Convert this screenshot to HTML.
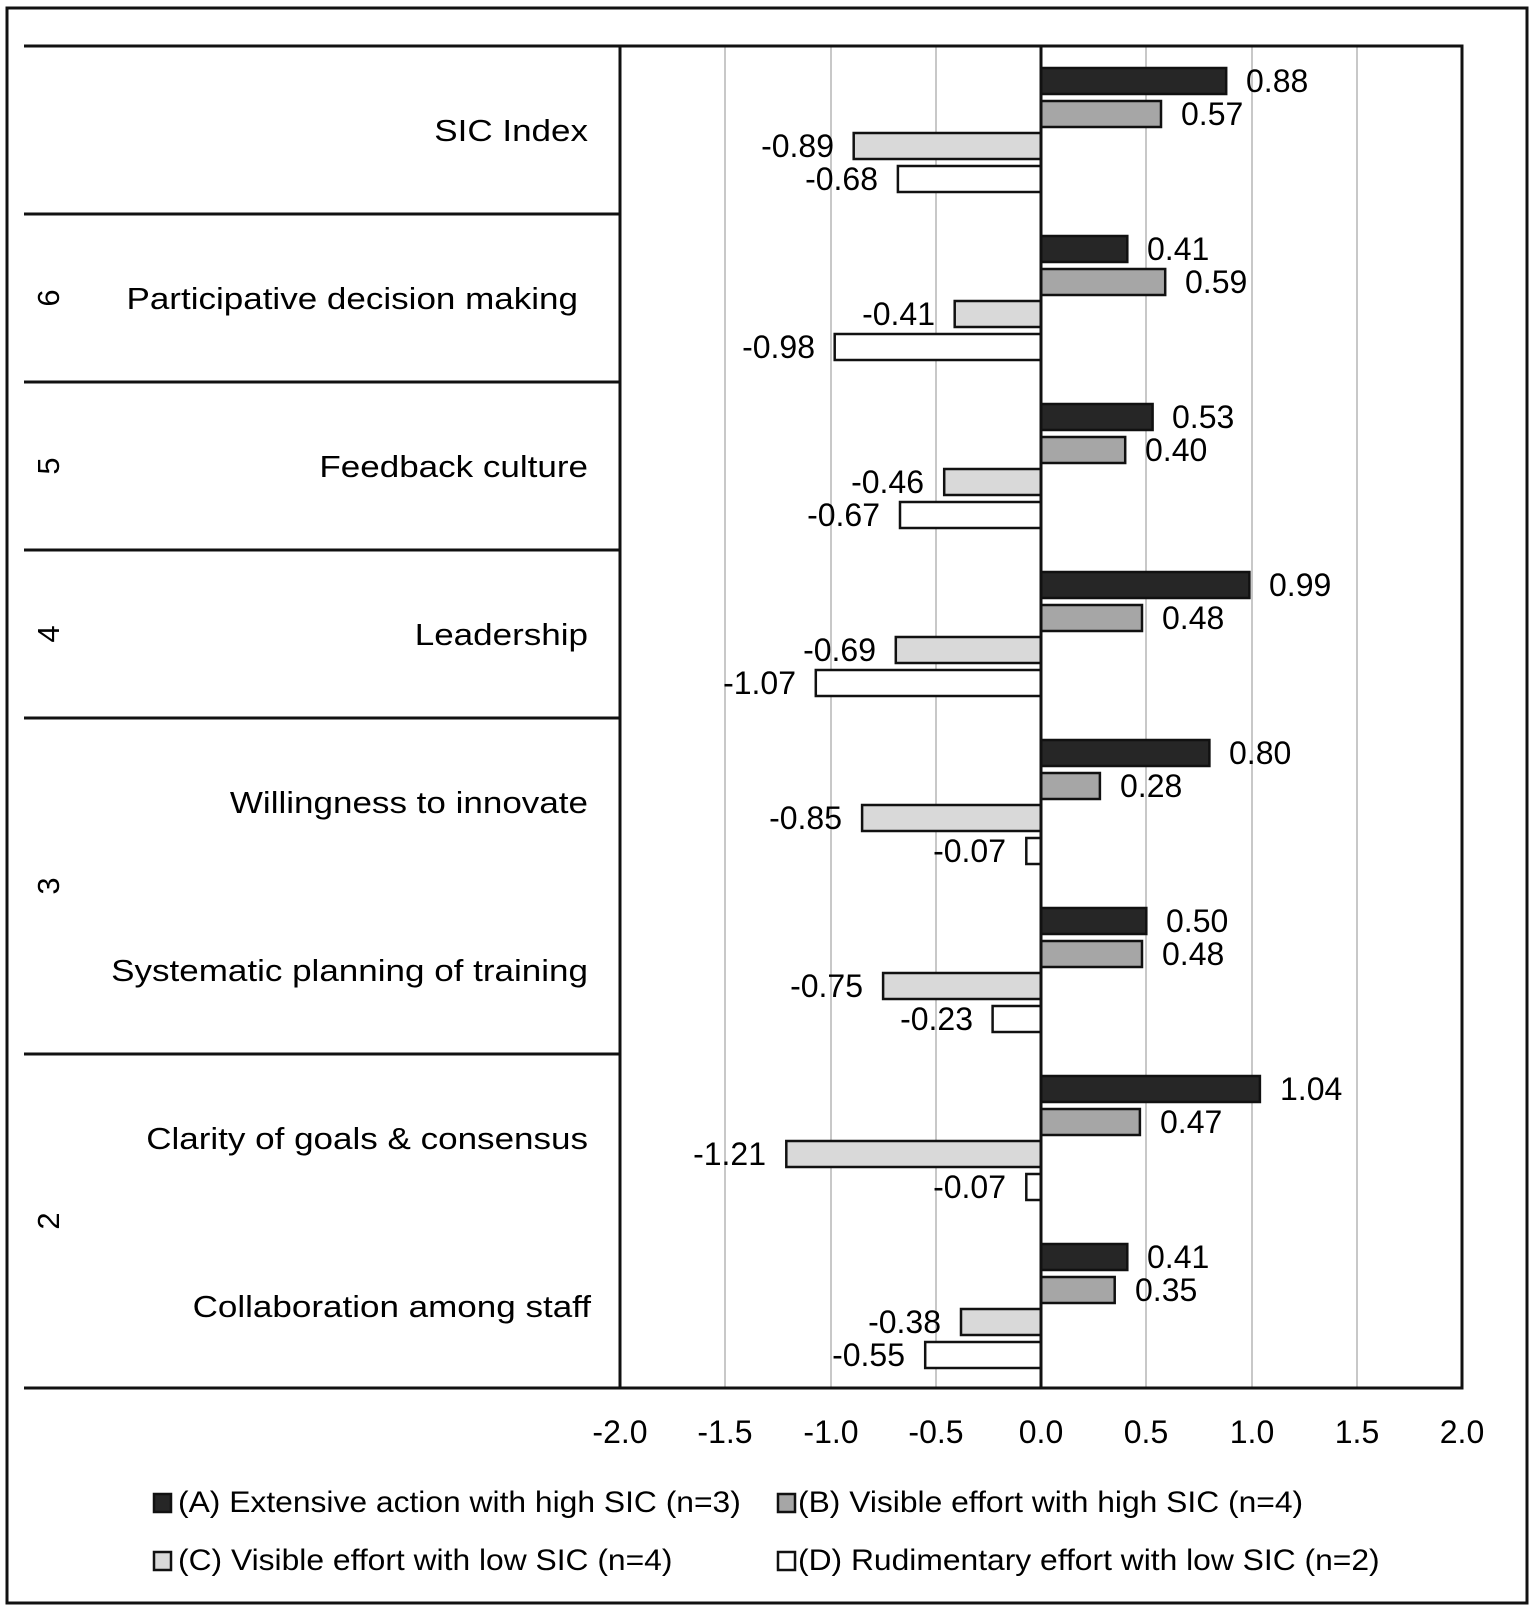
<!DOCTYPE html>
<html><head><meta charset="utf-8"><style>
html,body{margin:0;padding:0;background:#fff}
svg{display:block}
text{font-family:"Liberation Sans",Arial,sans-serif;fill:#000}
</style></head><body>
<svg width="1535" height="1611" viewBox="0 0 1535 1611" xmlns="http://www.w3.org/2000/svg">
<rect x="0" y="0" width="1535" height="1611" fill="#fff"/>
<rect x="7" y="8" width="1520" height="1595" fill="none" stroke="#111" stroke-width="3"/>
<g stroke="#c8c8c8" stroke-width="2">
<line x1="725" y1="47" x2="725" y2="1388"/>
<line x1="831" y1="47" x2="831" y2="1388"/>
<line x1="936" y1="47" x2="936" y2="1388"/>
<line x1="1146" y1="47" x2="1146" y2="1388"/>
<line x1="1252" y1="47" x2="1252" y2="1388"/>
<line x1="1357" y1="47" x2="1357" y2="1388"/>
</g>
<g stroke="#111" stroke-width="3" fill="none">
<rect x="620" y="46" width="842" height="1342"/>
<line x1="24" y1="46" x2="620" y2="46"/>
<line x1="24" y1="214" x2="620" y2="214"/>
<line x1="24" y1="382" x2="620" y2="382"/>
<line x1="24" y1="550" x2="620" y2="550"/>
<line x1="24" y1="718" x2="620" y2="718"/>
<line x1="24" y1="1054" x2="620" y2="1054"/>
<line x1="24" y1="1388" x2="620" y2="1388"/>
</g>
<g stroke="#111" stroke-width="2.5">
<rect x="1041" y="68" width="185.2" height="26" fill="#262626"/>
<rect x="1041" y="101" width="120" height="26" fill="#a6a6a6"/>
<rect x="853.7" y="133" width="187.3" height="26" fill="#d9d9d9"/>
<rect x="897.9" y="166" width="143.1" height="26" fill="#fff"/>
<rect x="1041" y="236" width="86.3" height="26" fill="#262626"/>
<rect x="1041" y="269" width="124.2" height="26" fill="#a6a6a6"/>
<rect x="954.7" y="301" width="86.3" height="26" fill="#d9d9d9"/>
<rect x="834.7" y="334" width="206.3" height="26" fill="#fff"/>
<rect x="1041" y="404" width="111.6" height="26" fill="#262626"/>
<rect x="1041" y="437" width="84.2" height="26" fill="#a6a6a6"/>
<rect x="944.2" y="469" width="96.8" height="26" fill="#d9d9d9"/>
<rect x="900" y="502" width="141" height="26" fill="#fff"/>
<rect x="1041" y="572" width="208.4" height="26" fill="#262626"/>
<rect x="1041" y="605" width="101" height="26" fill="#a6a6a6"/>
<rect x="895.8" y="637" width="145.2" height="26" fill="#d9d9d9"/>
<rect x="815.8" y="670" width="225.2" height="26" fill="#fff"/>
<rect x="1041" y="740" width="168.4" height="26" fill="#262626"/>
<rect x="1041" y="773" width="58.9" height="26" fill="#a6a6a6"/>
<rect x="862.1" y="805" width="178.9" height="26" fill="#d9d9d9"/>
<rect x="1026.3" y="838" width="14.7" height="26" fill="#fff"/>
<rect x="1041" y="908" width="105.3" height="26" fill="#262626"/>
<rect x="1041" y="941" width="101" height="26" fill="#a6a6a6"/>
<rect x="883.1" y="973" width="157.9" height="26" fill="#d9d9d9"/>
<rect x="992.6" y="1006" width="48.4" height="26" fill="#fff"/>
<rect x="1041" y="1076" width="218.9" height="26" fill="#262626"/>
<rect x="1041" y="1109" width="98.9" height="26" fill="#a6a6a6"/>
<rect x="786.3" y="1141" width="254.7" height="26" fill="#d9d9d9"/>
<rect x="1026.3" y="1174" width="14.7" height="26" fill="#fff"/>
<rect x="1041" y="1244" width="86.3" height="26" fill="#262626"/>
<rect x="1041" y="1277" width="73.7" height="26" fill="#a6a6a6"/>
<rect x="961" y="1309" width="80" height="26" fill="#d9d9d9"/>
<rect x="925.2" y="1342" width="115.8" height="26" fill="#fff"/>
</g>
<line x1="1041" y1="46" x2="1041" y2="1388" stroke="#111" stroke-width="3"/>
<g font-size="32">
<text x="1246" y="92">0.88</text>
<text x="1181" y="125">0.57</text>
<text x="834" y="157" text-anchor="end">-0.89</text>
<text x="878" y="190" text-anchor="end">-0.68</text>
<text x="1147" y="260">0.41</text>
<text x="1185" y="293">0.59</text>
<text x="935" y="325" text-anchor="end">-0.41</text>
<text x="815" y="358" text-anchor="end">-0.98</text>
<text x="1172" y="428">0.53</text>
<text x="1145" y="461">0.40</text>
<text x="924" y="493" text-anchor="end">-0.46</text>
<text x="880" y="526" text-anchor="end">-0.67</text>
<text x="1269" y="596">0.99</text>
<text x="1162" y="629">0.48</text>
<text x="876" y="661" text-anchor="end">-0.69</text>
<text x="796" y="694" text-anchor="end">-1.07</text>
<text x="1229" y="764">0.80</text>
<text x="1120" y="797">0.28</text>
<text x="842" y="829" text-anchor="end">-0.85</text>
<text x="1006" y="862" text-anchor="end">-0.07</text>
<text x="1166" y="932">0.50</text>
<text x="1162" y="965">0.48</text>
<text x="863" y="997" text-anchor="end">-0.75</text>
<text x="973" y="1030" text-anchor="end">-0.23</text>
<text x="1280" y="1100">1.04</text>
<text x="1160" y="1133">0.47</text>
<text x="766" y="1165" text-anchor="end">-1.21</text>
<text x="1006" y="1198" text-anchor="end">-0.07</text>
<text x="1147" y="1268">0.41</text>
<text x="1135" y="1301">0.35</text>
<text x="941" y="1333" text-anchor="end">-0.38</text>
<text x="905" y="1366" text-anchor="end">-0.55</text>
</g>
<g font-size="31">
<g transform="translate(588,141) scale(1.13,1)"><text text-anchor="end">SIC Index</text></g>
<g transform="translate(578,309) scale(1.13,1)"><text text-anchor="end">Participative decision making</text></g>
<g transform="translate(588,477) scale(1.13,1)"><text text-anchor="end">Feedback culture</text></g>
<g transform="translate(588,645) scale(1.13,1)"><text text-anchor="end">Leadership</text></g>
<g transform="translate(588,813) scale(1.13,1)"><text text-anchor="end">Willingness to innovate</text></g>
<g transform="translate(588,981) scale(1.13,1)"><text text-anchor="end">Systematic planning of training</text></g>
<g transform="translate(588,1149) scale(1.13,1)"><text text-anchor="end">Clarity of goals &amp; consensus</text></g>
<g transform="translate(591,1317) scale(1.13,1)"><text text-anchor="end">Collaboration among staff</text></g>
<text transform="translate(59,298) rotate(-90)" text-anchor="middle">6</text>
<text transform="translate(59,466) rotate(-90)" text-anchor="middle">5</text>
<text transform="translate(59,634) rotate(-90)" text-anchor="middle">4</text>
<text transform="translate(59,886) rotate(-90)" text-anchor="middle">3</text>
<text transform="translate(59,1221) rotate(-90)" text-anchor="middle">2</text>
</g>
<g font-size="32" text-anchor="middle">
<text x="620" y="1443">-2.0</text>
<text x="725" y="1443">-1.5</text>
<text x="831" y="1443">-1.0</text>
<text x="936" y="1443">-0.5</text>
<text x="1041" y="1443">0.0</text>
<text x="1146" y="1443">0.5</text>
<text x="1252" y="1443">1.0</text>
<text x="1357" y="1443">1.5</text>
<text x="1462" y="1443">2.0</text>
</g>
<g stroke="#111" stroke-width="2.5">
<rect x="154" y="1494" width="17" height="18" fill="#262626"/>
<rect x="778" y="1494" width="17" height="18" fill="#a6a6a6"/>
<rect x="154" y="1552" width="17" height="18" fill="#d9d9d9"/>
<rect x="778" y="1552" width="17" height="18" fill="#fff"/>
</g>
<g font-size="30">
<g transform="translate(178,1512) scale(1.06,1)"><text>(A) Extensive action with high SIC (n=3)</text></g>
<g transform="translate(798,1512) scale(1.06,1)"><text>(B) Visible effort with high SIC (n=4)</text></g>
<g transform="translate(178,1570) scale(1.06,1)"><text>(C) Visible effort with low SIC (n=4)</text></g>
<g transform="translate(798,1570) scale(1.06,1)"><text>(D) Rudimentary effort with low SIC (n=2)</text></g>
</g>
</svg>
</body></html>
